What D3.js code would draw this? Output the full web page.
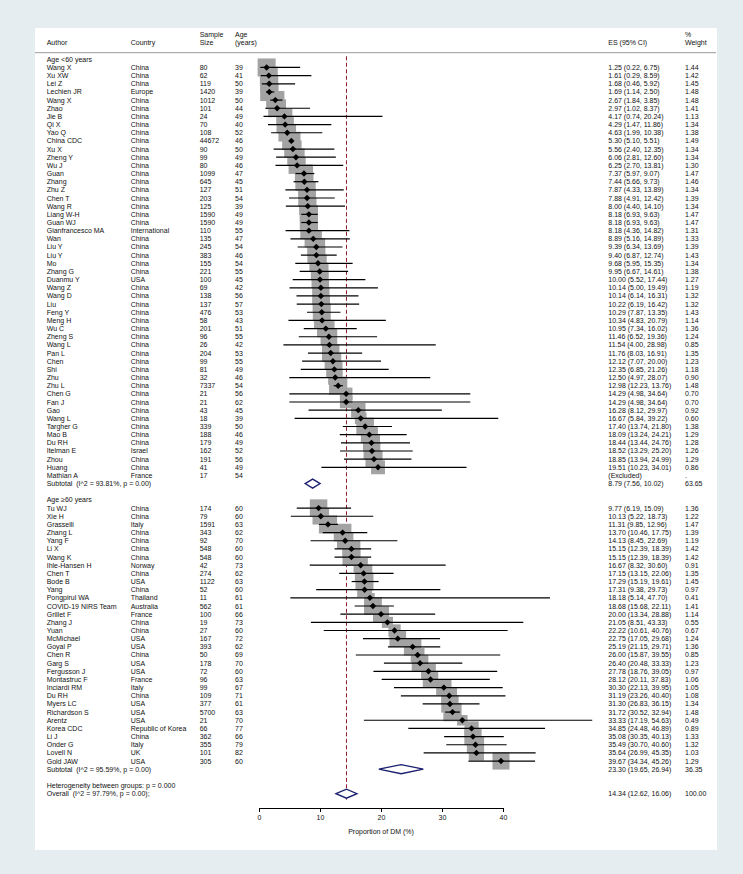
<!DOCTYPE html>
<html>
<head>
<meta charset="utf-8">
<script src="https://cdn.jsdelivr.net/npm/d3@7/dist/d3.min.js"></script>
<style>
  body { margin: 0; background: #e6edf1; }
  text { font-family: "Liberation Sans", Arial, Helvetica, sans-serif; font-size: 7px; fill: #111; white-space: pre; }
</style>
</head>
<body>
<div id="chart"></div>
<script>
// study data, age < 60 first (51 rows) then age >= 60 (32 rows)
var groupCounts = [51, 32];
var groupLabels = ["Age <60 years", "Age \u226560 years"];

var authors = ["Wang X","Xu XW","Lei Z","Lechien JR","Wang X","Zhao","Jie B","Qi X","Yao Q","China CDC",
  "Xu X","Zheng Y","Wu J","Guan","Zhang","Zhu Z","Chen T","Wang R","Liang W-H","Guan WJ",
  "Gianfrancesco MA","Wan","Liu Y","Liu Y","Mo","Zhang G","Duanmu Y","Wang Z","Wang D","Liu",
  "Feng Y","Meng H","Wu C","Zheng S","Wang L","Pan L","Chen","Shi","Zhu","Zhu L",
  "Chen G","Fan J","Gao","Wang L","Targher G","Mao B","Du RH","Itelman E","Zhou","Huang","Mathian A",
  "Tu WJ","Xie H","Grasselli","Zhang L","Yang F","Li X","Wang K","Ihle-Hansen H","Chen T","Bode B",
  "Yang","Pongpirul WA","COVID-19 NIRS Team","Grillet F","Zhang J","Yuan","McMichael","Goyal P","Chen R","Garg S",
  "Fergusson J","Montastruc F","Inciardi RM","Du RH","Myers LC","Richardson S","Arentz","Korea CDC","Li J","Onder G",
  "Lovell N","Gold JAW"];

var countries = ["China","China","China","Europe","China","China","China","China","China","China",
  "China","China","China","China","China","China","China","China","China","China",
  "International","China","China","China","China","China","USA","China","China","China",
  "China","China","China","China","China","China","China","China","China","China",
  "China","China","China","China","China","China","China","Israel","China","China","France",
  "China","China","Italy","China","China","China","China","Norway","China","USA",
  "China","Thailand","Australia","France","China","China","USA","USA","China","USA",
  "USA","France","Italy","China","USA","USA","USA","Republic of Korea","China","Italy",
  "UK","USA"];

var sampleSizes = [80,62,119,1420,1012,101,24,70,108,44672,
  90,99,80,1099,645,127,203,125,1590,1590,
  110,135,245,383,155,221,100,69,138,137,
  476,58,201,96,26,204,99,81,32,7337,
  21,21,43,18,339,188,179,162,191,41,17,
  174,79,1591,343,92,548,548,42,274,1122,
  52,11,562,100,19,27,167,393,50,178,
  72,96,99,109,377,5700,21,66,362,355,
  101,305];

var ages = [39,41,50,39,50,44,49,40,52,46,
  50,49,46,47,45,51,54,39,49,49,
  55,47,54,46,54,55,45,42,56,57,
  53,43,51,55,42,53,55,49,46,54,
  56,62,45,39,50,46,49,52,56,49,54,
  60,60,63,62,70,60,60,73,62,63,
  60,61,61,66,73,60,72,62,69,70,
  60,63,67,71,61,63,70,77,66,79,
  82,60];

var es = [1.25,1.61,1.68,1.69,2.67,2.97,4.17,4.29,4.63,5.30,
  5.56,6.06,6.25,7.37,7.44,7.87,7.88,8.00,8.18,8.18,
  8.18,8.89,9.39,9.40,9.68,9.95,10.00,10.14,10.14,10.22,
  10.29,10.34,10.95,11.46,11.54,11.76,12.12,12.35,12.50,12.98,
  14.29,14.29,16.28,16.67,17.40,18.09,18.44,18.52,18.85,19.51,null,
  9.77,10.13,11.31,13.70,14.13,15.15,15.15,16.67,17.15,17.29,
  17.31,18.18,18.68,20.00,21.05,22.22,22.75,25.19,26.00,26.40,
  27.78,28.12,30.30,31.19,31.30,31.72,33.33,34.85,35.08,35.49,
  35.64,39.67];

var ciLow = [0.22,0.29,0.46,1.14,1.84,1.02,0.74,1.47,1.99,5.10,
  2.40,2.81,2.70,5.97,5.66,4.33,4.91,4.40,6.93,6.93,
  4.36,5.16,6.34,6.87,5.95,6.67,5.52,5.00,6.14,6.19,
  7.87,4.83,7.34,6.52,4.00,8.03,7.07,6.85,4.97,12.23,
  4.98,4.98,8.12,5.84,13.74,13.24,13.44,13.29,13.94,10.23,null,
  6.19,5.22,9.85,10.46,8.45,12.39,12.39,8.32,13.15,15.19,
  9.38,5.14,15.68,13.34,8.51,10.61,17.05,21.15,15.87,20.48,
  18.76,20.11,22.13,23.26,26.83,30.52,17.19,24.48,30.35,30.70,
  26.99,34.34];

var ciHigh = [6.75,8.59,5.92,2.50,3.85,8.37,20.24,11.86,10.38,5.51,
  12.35,12.60,13.81,9.07,9.73,13.89,12.42,14.10,9.63,9.63,
  14.82,14.89,13.69,12.74,15.35,14.61,17.44,19.49,16.31,16.42,
  13.35,20.79,16.02,19.36,28.98,16.91,20.00,21.26,28.07,13.76,
  34.64,34.64,29.97,39.22,21.80,24.21,24.76,25.20,24.99,34.01,null,
  15.09,18.73,12.96,17.75,22.69,18.39,18.39,30.60,22.06,19.61,
  29.73,47.70,22.11,28.88,43.33,40.76,29.68,29.71,39.55,33.33,
  39.05,37.83,39.95,40.40,36.15,32.94,54.63,46.89,40.13,40.60,
  45.35,45.26];

var weights = [1.44,1.42,1.45,1.48,1.48,1.41,1.13,1.34,1.38,1.49,
  1.34,1.34,1.30,1.47,1.46,1.34,1.39,1.34,1.47,1.47,
  1.31,1.33,1.39,1.43,1.34,1.38,1.27,1.19,1.32,1.32,
  1.43,1.14,1.36,1.24,0.85,1.35,1.23,1.18,0.90,1.48,
  0.70,0.70,0.92,0.60,1.38,1.29,1.28,1.26,1.29,0.86,null,
  1.36,1.22,1.47,1.39,1.19,1.42,1.42,0.91,1.35,1.45,
  0.97,0.41,1.41,1.14,0.55,0.67,1.24,1.36,0.85,1.23,
  0.97,1.06,1.05,1.08,1.34,1.48,0.49,0.89,1.33,1.32,
  1.03,1.29];

// pooled estimates
var subtotalLabels = ["Subtotal  (I^2 = 93.81%, p = 0.00)", "Subtotal  (I^2 = 95.59%, p = 0.00)"];
var subtotalEs = [8.79, 23.30];
var subtotalLow = [7.56, 19.65];
var subtotalHigh = [10.02, 26.94];
var subtotalWeight = [63.65, 36.35];
var heterogeneityLabel = "Heterogeneity between groups: p = 0.000";
var overallLabel = "Overall  (I^2 = 97.79%, p = 0.00);";
var overall = {es: 14.34, lo: 12.62, hi: 16.06, w: 100.00};
var xTicks = [0, 10, 20, 30, 40];
var xTitle = "Proportion of DM (%)";

var W = 743, H = 874;
var svg = d3.select('#chart').append('svg')
  .attr('width', W).attr('height', H);

svg.append('rect').attr('width', W).attr('height', H).attr('fill', '#e6edf1');
svg.append('rect').attr('x', 35).attr('y', 28).attr('width', 682).attr('height', 822).attr('fill', '#fff');

// build the row list
var rows = [];
var k = 0;
groupCounts.forEach(function(n, g) {
  rows.push({type: 'group', label: groupLabels[g]});
  for (var i = 0; i < n; i++) {
    rows.push({type: 'study', i: k});
    k++;
  }
  rows.push({type: 'subtotal', g: g});
  rows.push({type: 'blank'});
});
rows.push({type: 'het'});
rows.push({type: 'overall'});

var yRow = d3.scaleLinear().domain([0, rows.length - 1]).range([59.3, 793.7]);
var x = d3.scaleLinear().domain([0, 40]).range([259, 503]);
var xClip = 598;

var f2 = d3.format('.2f');
var col = {author: 46.7, country: 130.7, size: 199.7, age: 235, es: 608.3, w: 685};

// header
var hdr = svg.append('g');
hdr.append('text').attr('x', col.author).attr('y', 44.5).text('Author');
hdr.append('text').attr('x', col.country).attr('y', 44.5).text('Country');
hdr.append('text').attr('x', col.size).attr('y', 36.5).text('Sample');
hdr.append('text').attr('x', col.size).attr('y', 44.5).text('Size');
hdr.append('text').attr('x', col.age).attr('y', 36.5).text('Age');
hdr.append('text').attr('x', col.age).attr('y', 44.5).text('(years)');
hdr.append('text').attr('x', col.es).attr('y', 44.5).text('ES (95% CI)');
hdr.append('text').attr('x', col.w).attr('y', 36.5).text('%');
hdr.append('text').attr('x', col.w).attr('y', 44.5).text('Weight');
svg.append('line').attr('x1', 35).attr('x2', 716).attr('y1', 52.7).attr('y2', 52.7)
  .attr('stroke', '#9a9a9a').attr('stroke-width', 1);

var plot = svg.append('g');
var txt = svg.append('g');

// overall line
plot.append('line')
  .attr('x1', x(overall.es)).attr('x2', x(overall.es))
  .attr('y1', yRow(0) - 3).attr('y2', yRow(rows.length - 1) + 6)
  .attr('stroke', '#8c1c2a').attr('stroke-width', 1).attr('stroke-dasharray', '4,2.5');

var studyRows = rows.map(function(r, j) { r.j = j; return r; })
  .filter(function(r) { return r.type === 'study' && es[r.i] !== null; });

// weight boxes
plot.selectAll('rect.box').data(studyRows).enter().append('rect')
  .attr('class', 'box')
  .attr('x', function(r) { return x(es[r.i]) - 7.5 * Math.sqrt(weights[r.i]); })
  .attr('y', function(r) { return yRow(r.j) - 7.5 * Math.sqrt(weights[r.i]); })
  .attr('width', function(r) { return 15 * Math.sqrt(weights[r.i]); })
  .attr('height', function(r) { return 15 * Math.sqrt(weights[r.i]); })
  .attr('fill', '#a3a3a3');

// confidence intervals
plot.selectAll('line.ci').data(studyRows).enter().append('line')
  .attr('x1', function(r) { return x(ciLow[r.i]); })
  .attr('x2', function(r) { return Math.min(x(ciHigh[r.i]), xClip); })
  .attr('y1', function(r) { return yRow(r.j); })
  .attr('y2', function(r) { return yRow(r.j); })
  .attr('stroke', '#000').attr('stroke-width', 1.2);

// arrows where the interval runs off the plot
plot.selectAll('path.arrow').data(studyRows.filter(function(r) { return x(ciHigh[r.i]) > xClip; }))
  .enter().append('path')
  .attr('d', function(r) {
    var y0 = yRow(r.j);
    return 'M' + xClip + ',' + y0 + 'L' + (xClip - 7) + ',' + (y0 - 3) + 'L' + (xClip - 7) + ',' + (y0 + 3) + 'Z';
  })
  .attr('fill', '#000');

// point estimates
plot.selectAll('path.pt').data(studyRows).enter().append('path')
  .attr('d', d3.symbol().type(d3.symbolDiamond2).size(26))
  .attr('transform', function(r) { return 'translate(' + x(es[r.i]) + ',' + yRow(r.j) + ')'; })
  .attr('fill', '#000');

// pooled diamonds
function diamond(est, lo, hi, y0, h) {
  return 'M' + x(lo) + ',' + y0 + 'L' + x(est) + ',' + (y0 - h) + 'L' + x(hi) + ',' + y0 +
    'L' + x(est) + ',' + (y0 + h) + 'Z';
}

rows.forEach(function(r, j) {
  var y0 = yRow(j) + 2.5;
  if (r.type === 'group') {
    txt.append('text').attr('x', col.author).attr('y', y0).text(r.label);
  } else if (r.type === 'study') {
    var i = r.i;
    txt.append('text').attr('x', col.author).attr('y', y0).text(authors[i]);
    txt.append('text').attr('x', col.country).attr('y', y0).text(countries[i]);
    txt.append('text').attr('x', col.size).attr('y', y0).text(sampleSizes[i]);
    txt.append('text').attr('x', col.age).attr('y', y0).text(ages[i]);
    if (es[i] === null) {
      txt.append('text').attr('x', col.es).attr('y', y0).text('(Excluded)');
      txt.append('text').attr('x', col.w).attr('y', y0).text('.');
    } else {
      txt.append('text').attr('x', col.es).attr('y', y0)
        .text(f2(es[i]) + ' (' + f2(ciLow[i]) + ', ' + f2(ciHigh[i]) + ')');
      txt.append('text').attr('x', col.w).attr('y', y0).text(f2(weights[i]));
    }
  } else if (r.type === 'subtotal') {
    var g = r.g;
    txt.append('text').attr('x', col.author).attr('y', y0).text(subtotalLabels[g]);
    txt.append('text').attr('x', col.es).attr('y', y0)
      .text(f2(subtotalEs[g]) + ' (' + f2(subtotalLow[g]) + ', ' + f2(subtotalHigh[g]) + ')');
    txt.append('text').attr('x', col.w).attr('y', y0).text(f2(subtotalWeight[g]));
    plot.append('path').attr('d', diamond(subtotalEs[g], subtotalLow[g], subtotalHigh[g], yRow(j), 4.5))
      .attr('fill', '#fff').attr('stroke', '#1a1f6e').attr('stroke-width', 1.3);
  } else if (r.type === 'het') {
    txt.append('text').attr('x', col.author).attr('y', y0).text(heterogeneityLabel);
  } else if (r.type === 'overall') {
    txt.append('text').attr('x', col.author).attr('y', y0).text(overallLabel);
    txt.append('text').attr('x', col.es).attr('y', y0)
      .text(f2(overall.es) + ' (' + f2(overall.lo) + ', ' + f2(overall.hi) + ')');
    txt.append('text').attr('x', col.w).attr('y', y0).text(f2(overall.w));
    plot.append('path').attr('d', diamond(overall.es, overall.lo, overall.hi, yRow(j), 4.5))
      .attr('fill', '#fff').attr('stroke', '#1a1f6e').attr('stroke-width', 1.3);
  }
});

// x axis
var axisY = 808;
var ax = svg.append('g').attr('transform', 'translate(0,' + axisY + ')')
  .call(d3.axisBottom(x).tickValues(xTicks).tickSize(4).tickPadding(3));
ax.select('.domain').attr('stroke', '#000');
ax.selectAll('.tick line').attr('stroke', '#000');
ax.selectAll('.tick text').style('font-size', '7px').style('font-family', '"Liberation Sans", Arial, sans-serif');
svg.append('text').attr('x', x(20)).attr('y', 834).attr('text-anchor', 'middle').text(xTitle);
</script>
</body>
</html>
